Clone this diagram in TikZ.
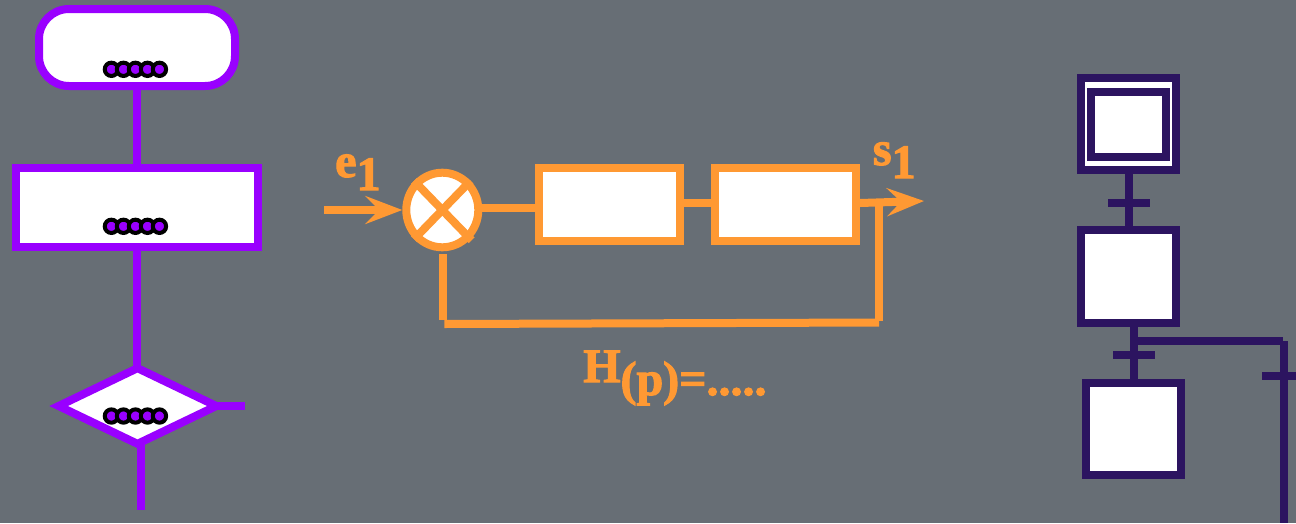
\documentclass[tikz,border=0pt]{standalone}
\usepackage{fontspec}
\usetikzlibrary{arrows.meta,shapes.geometric}
\setmainfont{Liberation Serif}
\newfontfamily\heavyfont[FakeBold=2.2]{Liberation Serif Bold}

\definecolor{slatebg}{HTML}{676E75}
\definecolor{flowcol}{HTML}{9900FF}
\definecolor{loopcol}{HTML}{FF9933}
\definecolor{stepcol}{HTML}{2C1460}

\newcommand{\loweredtxt}[2]{#1\raisebox{-13pt}{#2}}
\newcommand{\fivedots}{\special{pdf:code q 2 Tr 4 w 0 0 0 RG}.\kern-8.5pt.\kern-8.5pt.\kern-8.5pt.\kern-8.5pt.\special{pdf:code Q}}

\tikzset{
  flowline/.style={line width=8pt,draw=flowcol},
  loopline/.style={line width=8pt,draw=loopcol},
  stepline/.style={line width=8pt,draw=stepcol},
  loopbox/.style={loopline,fill=white,minimum width=141pt,minimum height=73pt,inner sep=0pt},
  stepbox/.style={stepline,fill=white,minimum width=95pt,minimum height=92.5pt,inner sep=0pt},
  trans/.style={fill=stepcol,minimum width=42.6pt,minimum height=8pt,inner sep=0pt},
  looptxt/.style={text=loopcol,font=\fontsize{48pt}{48pt}\heavyfont,inner sep=0pt,anchor=base west},
  flowdots/.style={text=flowcol,font=\fontsize{82pt}{82pt}\selectfont\bfseries,inner sep=0pt,anchor=base},
  looptip/.style={-{Stealth[length=37pt,width=28pt,inset=14pt]}},
}

\begin{document}
\begin{tikzpicture}[x=1pt,y=-1pt]

\useasboundingbox (0,0) rectangle (1296,523);
\fill[slatebg] (0,0) rectangle (1296,523);

% Flowchart
\node[flowline,fill=white,rounded corners=30pt,minimum width=196pt,minimum height=77pt,inner sep=0pt] (start) at (137,47.5) {};
\node[flowline,fill=white,minimum width=242.6pt,minimum height=79pt,inner sep=0pt] (process) at (137,207.5) {};
\node[flowline,fill=white,diamond,minimum width=161pt,minimum height=79pt,inner sep=0pt] (choice) at (137.5,406) {};
\coordinate (yesend) at (245,406);
\coordinate (nostart) at (141,445);
\coordinate (noend) at (141,510);

\draw[flowline] (start) -- (process);
\draw[flowline,shorten >=-6pt] (process) -- (process |- choice.north);
\draw[flowline,shorten <=-8pt] (choice.east) -- (yesend);
\draw[flowline] (nostart) -- (noend);

\node[flowdots] (startdots) at (135.4,74.8) {\fivedots};
\node[flowdots] (processdots) at (135.4,231.8) {\fivedots};
\node[flowdots] (choicedots) at (135.4,421.5) {\fivedots};

% Control loop
\node[loopline,fill=white,ellipse,minimum width=72pt,minimum height=74.6pt,inner sep=0pt] (sum) at (442.3,210) {};
\node[loopbox] (blockA) at (609,204.5) {};
\node[loopbox] (blockB) at (785.5,204.5) {};
\coordinate (inlet) at (324,210);
\coordinate (outlet) at (924,201);
\coordinate (tapA) at (879.2,203);
\coordinate (tapB) at (879.2,321);
\coordinate (backA) at (879.2,322.5);
\coordinate (backB) at (444.3,324);
\coordinate (upA) at (443.3,320);
\coordinate (upB) at (443.3,254);

\draw[loopline,shorten >=-1.5pt] (sum.north west) -- (sum.south east);
\draw[loopline] (sum.north east) -- (sum.south west);
\draw[loopline] (sum.east |- 0,208) -- (blockA.west |- 0,208);
\draw[loopline] (blockA.east |- 0,203) -- (blockB.west |- 0,203);
\draw[loopline,looptip] (inlet) -- (sum.west);
\draw[loopline,looptip] (blockB.east |- 0,203) -- (outlet);
\draw[loopline] (tapA) -- (tapB);
\draw[loopline] (backA) -- (backB);
\draw[loopline] (upA) -- (upB);

\node[looptxt] (inlabel) at (335,177) {\loweredtxt{e}{1}};
\node[looptxt] (outlabel) at (872.7,165) {\loweredtxt{s}{1}};
\node[looptxt] (transfer) at (583,382) {\loweredtxt{H}{(p)=.....}};

% Grafcet
\node[stepbox] (stepinit) at (1128.8,124) {};
\node[stepline,fill=white,minimum width=75pt,minimum height=65pt,inner sep=0pt] (stepinner) at (1128.8,124.2) {};
\node[stepbox] (stepA) at (1128.8,276.7) {};
\node[stepbox] (stepB) at (1133.8,429.2) {};
\node[trans] (transA) at (1129,203) {};
\node[trans] (transB) at (1134,355.3) {};
\node[trans] (transC) at (1283.5,376) {};
\coordinate (forkstart) at (1134,340.5);
\coordinate (forkend) at (1282.7,340.5);
\coordinate (branchtop) at (1284,341);
\coordinate (branchend) at (1284,523);

\draw[stepline] (stepinit) -- (stepA);
\draw[stepline] (stepB.north -| forkstart) -- (stepA.south -| forkstart);
\draw[stepline] (forkstart) -- (forkend);
\draw[stepline] (branchtop) -- (branchend);

\end{tikzpicture}
\end{document}
